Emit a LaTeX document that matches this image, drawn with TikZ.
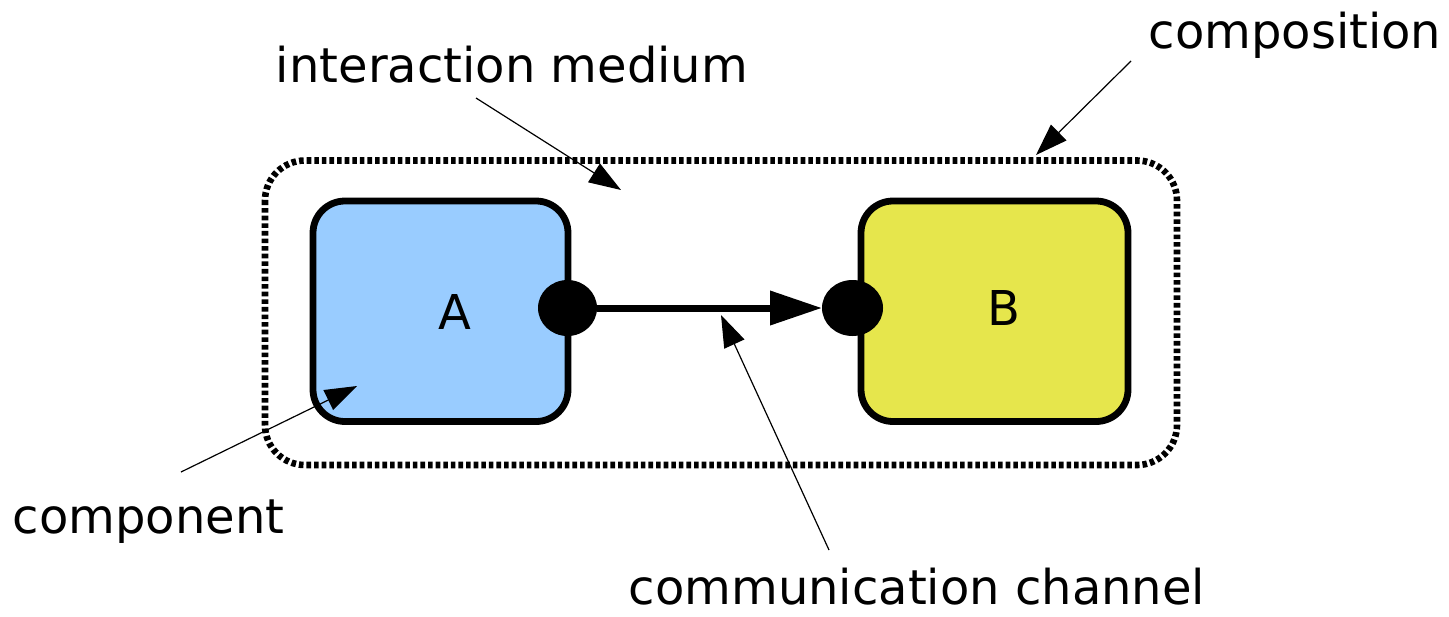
\documentclass[tikz,border=0pt]{standalone}
\usepackage{fontspec}
\setmainfont{DejaVu Sans}
\usetikzlibrary{arrows.meta,shapes.geometric}
\definecolor{compblue}{HTML}{99CCFF}
\definecolor{compyellow}{HTML}{E6E64C}
\tikzset{
  component/.style={draw=black, line width=3.4pt, rounded corners=16pt,
    minimum height=110.25pt, inner sep=0pt, outer sep=0pt},
  port/.style={ellipse, fill=black, draw=none, minimum height=28pt, inner sep=0pt, outer sep=0pt},
  channel/.style={line width=3.5pt, -{Triangle[length=26pt,width=16.5pt]}},
  note/.style={line width=0.6pt, -{Triangle[length=16pt,width=11pt]}},
  lbl/.style={font=\fontsize{24}{28}\selectfont, inner sep=0pt, anchor=base},
  composite/.style={draw=black, line width=3.3pt, dash pattern=on 2.3pt off 1.5pt, rounded corners=20pt}
}
\begin{document}
\begin{tikzpicture}[x=0.5pt, y=-0.5pt]
  \useasboundingbox (0,0) rectangle (1449,616);

  % composition boundary
  \draw[composite] (265,160.5) rectangle (1177,465);

  % components
  \node[component, fill=compblue, minimum width=127.5pt] (compA) at (440.5,311.25) {};
  \node[component, fill=compyellow, minimum width=133.5pt] (compB) at (994.5,311.25) {};
  \node[lbl] (labA) at (455,329) {A};
  \node[lbl] (labB) at (1004,325) {B};

  % ports and channel
  \node[port, minimum width=29.5pt] (portA) at (567.5,308) {};
  \node[port, minimum width=30.5pt] (portB) at (852.5,308) {};
  \draw[channel] (portA.east) -- (portB.west);

  % annotation labels
  \node[lbl] (tInter) at (512,82) {interaction medium};
  \node[lbl] (tComp) at (1295,48) {composition};
  \node[lbl] (tComponent) at (148.5,533) {component};
  \node[lbl] (tChan) at (917,604) {communication channel};

  % annotation pointers
  \coordinate (interTail) at (476,98);
  \coordinate (interTip) at (621,190);
  \coordinate (compTail) at (1131,61);
  \coordinate (compTip) at (1036,155);
  \coordinate (componentTail) at (181,472);
  \coordinate (componentTip) at (357,386);
  \coordinate (chanTail) at (829,550);
  \coordinate (chanTip) at (721,315);
  \draw[note] (interTail) -- (interTip);
  \draw[note] (compTail) -- (compTip);
  \draw[note] (componentTail) -- (componentTip);
  \draw[note] (chanTail) -- (chanTip);
\end{tikzpicture}
\end{document}
